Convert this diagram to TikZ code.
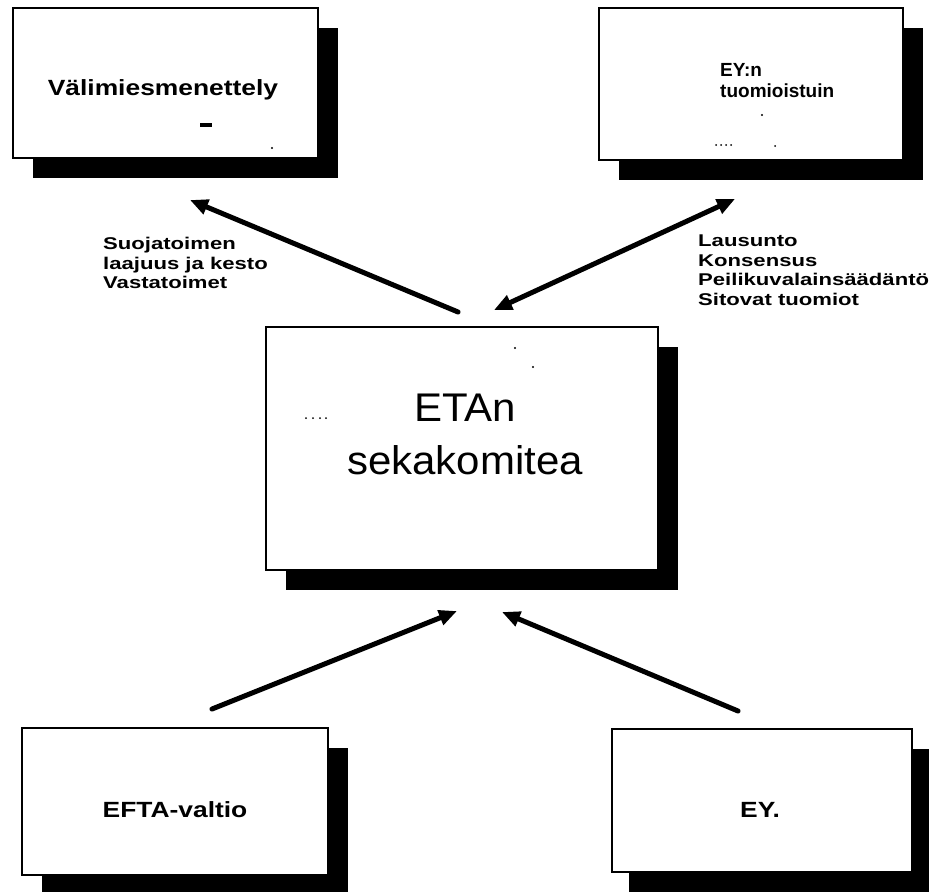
\documentclass[tikz,border=0pt]{standalone}
\usepackage{fontspec}
\setmainfont{Liberation Sans}
\newfontfamily\boxfont[FakeStretch=1.2]{Liberation Sans}
\newfontfamily\lblfont[FakeStretch=1.3]{Liberation Sans}
\newfontfamily\midfont[FakeStretch=1.05]{Liberation Sans}
\usetikzlibrary{arrows.meta}
\begin{document}
\begin{tikzpicture}[x=1pt,y=-1pt,
  box/.style={draw=black, line width=2.5pt, fill=white, inner sep=0pt,
    preaction={fill=black, transform canvas={shift={(#1,-20pt)}}}},
  box/.default=20pt,
  boxtxt/.style={font=\boxfont\bfseries\fontsize{22}{26}\selectfont, inner sep=0pt},
  lbl/.style={font=\lblfont\bfseries\fontsize{17}{19.5}\selectfont, align=left, inner sep=0pt},
  arr/.style={line width=5pt, line cap=round, -{Triangle[length=18pt,width=15pt]}},
  darr/.style={line width=5pt, {Triangle[length=18pt,width=15pt]}-{Triangle[length=18pt,width=15pt]}},
  speck/.style={fill=black}
]
\useasboundingbox (0,0) rectangle (941,891);

% boxes
\node[box, minimum width=305pt, minimum height=150pt] (vm) at (165.5,83) {};
\node[box, minimum width=304pt, minimum height=152pt] (eyt) at (751,84) {};
\node[box, minimum width=392pt, minimum height=243pt] (eta) at (462,448.5) {};
\node[box, minimum width=306pt, minimum height=147pt] (efta) at (175,801.5) {};
\node[box=17pt, minimum width=300pt, minimum height=143pt] (ey) at (762,800.5) {};

% box texts
\node[boxtxt, anchor=base] (vmt) at (163,95) {Välimiesmenettely};
\node[font=\bfseries\fontsize{19}{21}\selectfont, align=left, anchor=west, inner sep=0pt] (eytt) at (720,81) {EY:n\\tuomioistuin};
\node[font=\midfont\fontsize{40}{53}\selectfont, align=center, inner sep=0pt] (etat) at (465,434) {ETAn\\sekakomitea};
\node[boxtxt, anchor=base] (eftat) at (175,817) {EFTA-valtio};
\node[boxtxt, anchor=base] (eyx) at (760,817) {EY.};

% labels
\node[lbl, anchor=north west] (l1) at (103,237) {Suojatoimen\\laajuus ja kesto\\Vastatoimet};
\node[lbl, anchor=north west] (l2) at (698,235) {Lausunto\\Konsensus\\Peilikuvalainsäädäntö\\Sitovat tuomiot};

% small marks seen in the picture
\fill[speck] (200,123) rectangle (212,127);
\fill[speck] (272,148) circle (1.2pt);
\fill[speck] (762,115) circle (1.2pt);
\foreach \x in {716,721,726,731} \fill[speck] (\x,145) circle (1pt);
\fill[speck] (775,146) circle (1pt);
\foreach \x in {306,313,320,326} \fill[speck] (\x,418) circle (1pt);
\fill[speck] (515,348) circle (1.2pt);
\fill[speck] (533,367) circle (1.2pt);

% arrow ends
\coordinate (a1s) at (458,312);
\coordinate (a1e) at (190,200);
\coordinate (a2s) at (735,199);
\coordinate (a2e) at (494,310);
\coordinate (a3s) at (212,709);
\coordinate (a3e) at (457,611);
\coordinate (a4s) at (738,711);
\coordinate (a4e) at (502,612);

\draw[arr] (a1s) -- (a1e);
\draw[darr] (a2s) -- (a2e);
\draw[arr] (a3s) -- (a3e);
\draw[arr] (a4s) -- (a4e);
\end{tikzpicture}
\end{document}
